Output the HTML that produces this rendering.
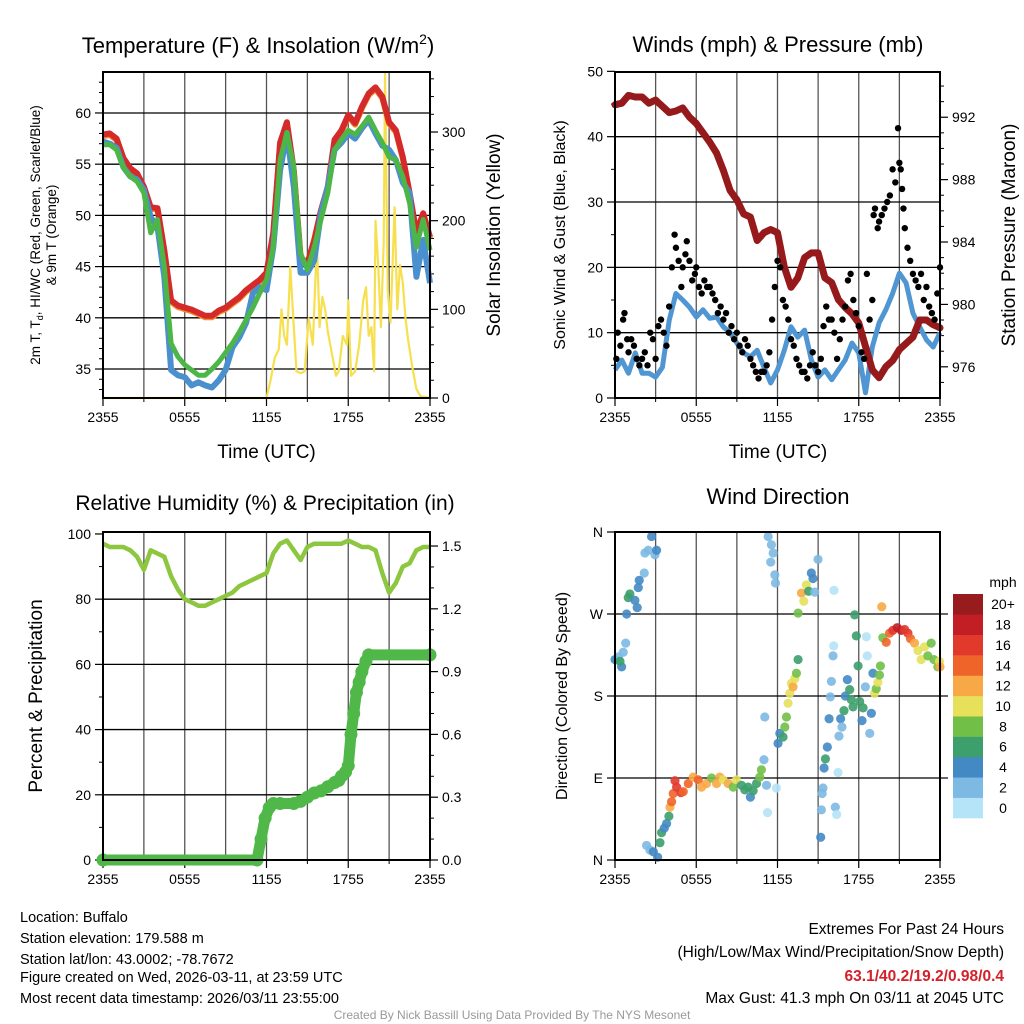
<!DOCTYPE html>
<html><head><meta charset="utf-8">
<style>
body{margin:0;background:#fff;}
svg{display:block;font-family:"Liberation Sans",Arial,sans-serif;}
</style></head>
<body>
<svg id="fig" width="1024" height="1024" viewBox="0 0 1024 1024" xmlns="http://www.w3.org/2000/svg">
<rect width="1024" height="1024" fill="#fff"/>
<g id="layer"></g>
<g font-size="14.5" fill="#000">
<text x="20" y="922">Location: Buffalo</text>
<text x="20" y="943">Station elevation: 179.588 m</text>
<text x="20" y="964">Station lat/lon: 43.0002; -78.7672</text>
<text x="20" y="982">Figure created on Wed, 2026-03-11, at 23:59 UTC</text>
<text x="20" y="1003">Most recent data timestamp: 2026/03/11 23:55:00</text>
</g>
<g font-size="15.5" text-anchor="end">
<text x="1004" y="934">Extremes For Past 24 Hours</text>
<text x="1004" y="957">(High/Low/Max Wind/Precipitation/Snow Depth)</text>
<text x="1004" y="981" fill="#d3202a" font-weight="bold">63.1/40.2/19.2/0.98/0.4</text>
<text x="1004" y="1003">Max Gust: 41.3 mph On 03/11 at 2045 UTC</text>
</g>
<text x="512" y="1019" font-size="12" fill="#999" text-anchor="middle">Created By Nick Bassill Using Data Provided By The NYS Mesonet</text>
</svg>
<script>
// ---------- DATA ----------
const hours = [0,0.5,1,1.5,2,2.5,3,3.5,4,4.5,5,5.5,6,6.5,7,7.5,8,8.5,9,9.5,10,10.5,11,11.5,12,12.5,13,13.5,14,14.5,15,15.5,16,16.5,17,17.5,18,18.5,19,19.5,20,20.5,21,21.5,22,22.5,23,23.5,24];
const tempRed = [57.9,58.0,57.5,55.6,54.6,54.1,52.8,50.8,50.7,46.6,41.7,41.2,41.0,40.8,40.5,40.2,40.2,40.7,41.0,41.5,42.0,42.7,43.2,43.7,44.4,48.3,57.1,59.1,54.4,45.9,45.3,47.6,50.5,52.8,57.4,58.3,59.8,59.0,60.6,61.9,62.5,61.6,59.1,58.3,55.7,52.2,48.3,50.2,47.9];
const tempGreen = [56.9,56.9,56.4,54.7,53.8,53.3,52.2,48.3,49.6,45.0,37.5,36.2,35.4,34.9,34.4,34.4,35.0,35.7,36.6,37.5,38.6,39.8,41.0,42.4,43.7,46.9,55.4,58.1,54.7,46.3,44.7,46.9,49.6,52.2,56.4,57.4,58.3,57.9,58.7,59.6,58.3,57.1,55.7,55.4,53.8,51.2,46.9,49.6,46.6];
const tempBlue = [57.2,57.0,56.6,54.7,53.8,53.5,52.5,49.8,48.9,44.0,34.9,34.4,34.2,33.4,33.7,33.4,33.2,33.9,34.9,37.1,38.1,39.5,42.4,43.0,42.7,46.9,54.4,58.0,52.8,44.4,44.4,45.6,50.2,52.8,56.4,57.1,58.0,57.5,58.5,59.3,58.0,56.8,56.4,55.4,53.2,52.2,44.0,47.6,43.4];
const solarHours = [0,12.0,12.3,12.6,12.9,13.1,13.3,13.5,13.75,14.0,14.2,14.5,14.8,15.1,15.4,15.7,15.9,16.1,16.3,16.5,16.8,17.1,17.3,17.6,17.9,18.0,18.2,18.5,18.8,19.1,19.3,19.5,19.7,19.9,20.0,20.2,20.4,20.6,20.7,20.9,21.1,21.4,21.6,21.8,22.0,22.2,22.4,22.7,23.0,23.3,24];
const solarVals = [0,0,20,45,55,100,70,60,148,80,30,28,30,90,60,176,80,114,100,75,50,25,30,70,60,110,25,30,60,110,125,70,80,30,200,150,80,175,366,120,85,215,100,150,130,90,65,35,10,2,0];

const windSpeed = [4.3,5.8,3.8,6.9,3.8,3.8,3.2,4.7,11.9,16.0,15.0,13.9,12.4,13.5,12.2,12.4,10.9,10.0,8.4,6.9,6.3,7.3,4.7,2.3,4.3,7.3,10.9,9.3,10.4,5.8,3.2,4.3,2.8,4.3,5.8,8.4,6.9,0.8,7.8,11.5,13.5,16.0,19.1,17.6,13.0,10.9,8.9,7.8,10.0];
const pressure = [992.8,992.9,993.4,993.3,993.3,992.9,993.1,992.7,992.3,992.4,992.6,992.0,991.6,991.0,990.4,989.7,988.6,987.3,986.7,985.8,985.6,984.1,984.6,984.8,984.6,982.4,981.1,981.7,983.0,983.3,983.3,981.7,981.4,980.3,979.8,979.4,978.8,977.3,975.8,975.3,976.0,976.4,977.1,977.5,977.9,979.0,979.0,978.7,978.5];
const gustHours = [0.1,0.2,0.4,0.6,0.7,0.9,1.0,1.2,1.4,1.6,1.8,2.0,2.2,2.4,2.6,2.8,3.0,3.2,3.4,3.6,3.8,4.0,4.2,4.4,4.5,4.7,4.9,5.0,5.2,5.3,5.5,5.7,5.9,6.0,6.2,6.4,6.6,6.8,7.0,7.2,7.4,7.6,7.8,8.0,8.2,8.4,8.6,8.8,9.0,9.2,9.4,9.6,9.8,10.0,10.2,10.4,10.6,10.8,11.0,11.2,11.4,11.6,11.8,12.0,12.2,12.4,12.6,12.8,13.0,13.2,13.4,13.6,13.8,14.0,14.2,14.4,14.6,14.8,15.0,15.2,15.4,15.6,15.8,16.0,16.2,16.4,16.6,16.8,17.0,17.2,17.4,17.6,17.8,18.0,18.2,18.4,18.6,18.8,19.0,19.1,19.2,19.4,19.5,19.7,19.9,20.1,20.3,20.5,20.7,20.9,21.0,21.1,21.2,21.3,21.4,21.6,21.8,22.0,22.2,22.4,22.6,22.8,23.0,23.2,23.4,23.6,23.8,24.0];
const gustVals = [6,10,8,12,13,9,7,9,8,6,5,6,7,5,10,9,6,11,12,10,8,14,20,25,23,21,17,20,22,24,21,18,19,20,17,16,18,17,17,16,15,13,14,12,13,10,11,9,10,8,7,9,8,6,5,4,3,4,4,5,7,12,17,21,20,15,14,12,9,8,6,5,4,4,3,5,7,5,4,6,11,14,12,12,10,6,9,12,14,18,19,15,13,11,7,6,19,12,15,28,29,26,27,28,29,30,31,35,33,41.3,36,35,32,29,26,23,21,19,18,17,19,15,17,14,13,12,16,20];

const rhVals = [97,96,96,96,95,93,89,95,94,93,87,83,80,79,78,78,79,80,81,82,84,85,86,87,88,94,97,98,95,92,96,97,97,97,97,97,98,97,96,96,95,88,82,85,90,91,95,96,96];
const precipHours = [0,11.3,11.6,11.9,12.2,12.5,13.0,14.0,14.5,15.0,15.5,16.0,16.5,17.0,17.3,17.5,17.8,18.0,18.2,18.4,18.6,18.8,19.0,19.3,19.5,24];
const precipVals = [0,0,0.1,0.2,0.25,0.27,0.27,0.27,0.28,0.3,0.32,0.33,0.35,0.37,0.38,0.4,0.42,0.45,0.6,0.7,0.8,0.85,0.9,0.95,0.98,0.98];

const dirHours = [0,0.25,0.49,0.37,0.61,0.79,0.86,0.98,1.1,1.47,1.64,1.72,1.79,2.16,2.21,2.46,2.7,2.95,3.07,2.33,2.58,2.83,3.15,3.32,3.44,3.64,3.81,3.98,4.06,4.18,4.3,4.43,4.55,4.87,5.04,5.41,5.78,6.15,6.39,6.76,7.13,7.5,7.74,7.99,8.36,8.73,8.97,9.34,9.59,9.83,10.0,10.2,10.45,10.69,10.81,11.0,11.19,11.26,11.92,11.06,12.04,12.17,12.41,12.54,12.66,12.78,12.91,13.03,13.15,13.28,13.4,13.52,11.31,11.55,11.68,11.5,11.8,11.85,13.52,13.77,13.94,14.13,14.3,14.5,14.62,14.75,14.99,16.17,15.19,15.24,15.36,15.3,15.44,15.54,15.68,15.81,15.9,15.98,16.1,16.15,16.27,16.37,16.47,16.54,16.66,16.76,16.91,17.01,17.16,17.33,17.45,17.58,17.7,17.82,17.95,18.07,18.24,18.32,18.49,18.56,18.63,18.81,18.93,19.05,19.17,19.29,19.41,19.53,19.6,19.7,19.78,20.03,20.28,20.52,20.84,21.14,21.39,21.63,21.82,22.12,22.37,22.61,22.86,23.1,23.35,23.55,23.84,23.96,24.0];
const dirDegs = [220,223,212,218,228,238,270,288,292,285,277,299,307,315,337,340,355,335,340,16,11,9,3,19,30,35,40,48,58,64,73,87,80,74,75,84,91,88,80,84,90,84,91,88,84,80,88,82,77,80,69,76,84,91,99,110,82,52,79,157,128,139,135,146,157,172,183,194,190,199,205,220,355,346,337,327,313,304,271,293,284,302,295,315,309,294,330,296,25,55,79,73,101,111,124,155,179,196,224,235,58,50,96,136,155,146,164,180,198,187,176,168,269,246,213,174,153,167,190,245,224,139,161,205,183,188,195,203,213,278,244,239,249,252,255,252,253,249,243,238,230,220,234,224,238,220,212,218,212];
const dirSpeeds = [4,2,4,6,2,2,4,6,6,4,4,4,4,2,2,2,4,2,4,2,2,4,4,6,6,4,4,6,12,14,14,16,16,16,14,14,12,14,12,12,8,12,12,10,12,8,10,6,6,6,4,6,6,8,8,2,2,0,0,2,4,4,6,8,8,10,10,10,12,10,8,6,2,2,2,2,2,2,8,12,10,10,6,4,4,2,2,0,4,2,2,2,4,6,4,4,2,2,2,0,2,0,0,2,4,2,6,4,4,6,6,6,6,6,6,6,4,6,2,0,0,2,4,4,10,8,10,8,8,12,8,14,14,16,18,18,16,16,14,12,10,10,10,8,8,8,8,10,12];

const hourTicks = [0,6,12,18,24];
const hourTickLabels = ['2355','0555','1155','1755','2355'];
const speedClasses = [0,2,4,6,8,10,12,14,16,18,20];
const speedLabels = ['0','2','4','6','8','10','12','14','16','18','20+'];
const speedColors = ['#b5e3f7','#7db9e3','#4389c4','#3c9f6c','#72bf48','#e6e05a','#f8a845','#ef6429','#e13a2d','#c21e26','#981b1e'];

// ---------- HELPERS ----------
const NS='http://www.w3.org/2000/svg';
const layer=document.getElementById('layer');
function mk(tag,attrs,parent){const e=document.createElementNS(NS,tag);for(const k in attrs)e.setAttribute(k,attrs[k]);(parent||layer).appendChild(e);return e;}
function lin(d0,d1,r0,r1){return v=>r0+(v-d0)*(r1-r0)/(d1-d0);}
function pathFrom(xs,ys,sx,sy){return xs.map((h,i)=>(i?'L':'M')+sx(h).toFixed(1)+','+sy(ys[i]).toFixed(1)).join('');}

function panel(name,L,T,R,B,sx){
  const g=mk('g',{});
  
  
  for(let h=3;h<24;h+=3){const l=mk('line',{x1:sx(h),x2:sx(h),y1:T,y2:B,stroke:'#555','stroke-width':1.3},g);
    
    }
  hourTicks.forEach((h,i)=>{
    mk('line',{x1:sx(h),x2:sx(h),y1:B,y2:B+8,stroke:'#000','stroke-width':1.2},g);
    const t=mk('text',{x:sx(h),y:B+24,'font-size':14,'text-anchor':'middle'},g);t.textContent=hourTickLabels[i];
    
    
  });
  for(let h=3;h<24;h+=6) mk('line',{x1:sx(h),x2:sx(h),y1:B,y2:B+4,stroke:'#000','stroke-width':1},g);
  return g;
}
function hgrid(g,L,R,y){const l=mk('line',{x1:L,x2:R,y1:y,y2:y,stroke:'#000','stroke-width':1.3},g);
  
  }
function leftTicks(g,L,sy,vals,labels,minor){
  vals.forEach((v,i)=>{mk('line',{x1:L-8,x2:L,y1:sy(v),y2:sy(v),stroke:'#000','stroke-width':1.2},g);
    const t=mk('text',{x:L-12,y:sy(v)+5,'font-size':14,'text-anchor':'end'},g);t.textContent=labels[i];
    
    });
  (minor||[]).forEach(v=>mk('line',{x1:L-4,x2:L,y1:sy(v),y2:sy(v),stroke:'#000','stroke-width':1},g));
}
function rightTicks(g,R,sy,vals,labels,minor){
  vals.forEach((v,i)=>{mk('line',{x1:R,x2:R+8,y1:sy(v),y2:sy(v),stroke:'#000','stroke-width':1.2},g);
    const t=mk('text',{x:R+12,y:sy(v)+5,'font-size':14},g);t.textContent=labels[i];
    
    });
  (minor||[]).forEach(v=>mk('line',{x1:R,x2:R+4,y1:sy(v),y2:sy(v),stroke:'#000','stroke-width':1},g));
}
function frame(g,L,T,R,B){mk('rect',{x:L,y:T,width:R-L,height:B-T,fill:'none',stroke:'#000','stroke-width':2},g);}
function txt(g,s,x,y,size,attrs,name){const t=mk('text',Object.assign({x:x,y:y,'font-size':size,'text-anchor':'middle'},attrs||{}),g);t.textContent=s;
  
  return t;}
function range(a,b,s){const r=[];for(let v=a;v<=b+1e-9;v+=s)r.push(+v.toFixed(3));return r;}

// ---------- PANEL 1 ----------
(function(){
  const L=103,T=72,R=430,B=398;
  const sx=lin(0,24,L,R), sy=lin(32.17,64,B,T), sy2=lin(0,367.7,B,T);
  const g=panel('temperature-panel',L,T,R,B,sx);
  [35,40,45,50,55,60].forEach(v=>hgrid(g,L,R,sy(v)));
  leftTicks(g,L,sy,[35,40,45,50,55,60],['35','40','45','50','55','60'],range(33,63,1).filter(v=>v%5));
  rightTicks(g,R,sy2,[0,100,200,300],['0','100','200','300'],range(20,360,20).filter(v=>v%100));
  const sol=mk('path',{d:pathFrom(solarHours,solarVals,sx,sy2),fill:'none',stroke:'#f7e04f','stroke-width':2.2,'stroke-linejoin':'round'},g);
  
  
  const o=mk('path',{d:pathFrom(hours,tempRed,sx,sy),fill:'none',stroke:'#f48a2c','stroke-width':6,transform:'translate(0,1.5)','stroke-linejoin':'round'},g);
  
  
  const r=mk('path',{d:pathFrom(hours,tempRed,sx,sy),fill:'none',stroke:'#d42a2a','stroke-width':6,'stroke-linejoin':'round'},g);
  
  
  const b=mk('path',{d:pathFrom(hours,tempBlue,sx,sy),fill:'none',stroke:'#4a90cf','stroke-width':6,'stroke-linejoin':'round'},g);
  
  
  const gr=mk('path',{d:pathFrom(hours,tempGreen,sx,sy),fill:'none',stroke:'#4cb648','stroke-width':5,'stroke-linejoin':'round'},g);
  
  
  frame(g,L,T,R,B);
  const t=txt(g,'Temperature (F) & Insolation (W/m',258,53,22,{},'temp-panel-title');
  const sup=mk('tspan',{'font-size':14,dy:-9},t);sup.textContent='2';
  const cl=mk('tspan',{dy:9},t);cl.textContent=')';
  txt(g,'Time (UTC)',L+(R-L)/2,458,19,{},'x-axis-title');
  const yl=txt(g,'',0,0,13.5,{transform:'translate(40,235) rotate(-90)'},'temp-y-axis-title');
  const a=mk('tspan',{x:0,dy:0},yl);a.textContent='2m T, T';
  const s=mk('tspan',{'font-size':9,dy:3},yl);s.textContent='d';
  const c=mk('tspan',{dy:-3},yl);c.textContent=', HI/WC (Red, Green, Scarlet/Blue)';
  const d2=mk('tspan',{x:0,dy:16},yl);d2.textContent='& 9m T (Orange)';
  txt(g,'Solar Insolation (Yellow)',0,0,19,{transform:'translate(500,235) rotate(-90)'},'solar-y-axis-title');
})();

// ---------- PANEL 2 ----------
(function(){
  const L=615,T=72,R=940,B=398;
  const sx=lin(0,24,L,R), sy=lin(0,49.9,B,T), sp=lin(974.0,994.9,B,T);
  const g=panel('winds-panel',L,T,R,B,sx);
  [10,20,30,40].forEach(v=>hgrid(g,L,R,sy(v)));
  leftTicks(g,L,sy,[0,10,20,30,40,50],['0','10','20','30','40','50'],[5,15,25,35,45]);
  rightTicks(g,R,sp,[976,980,984,988,992],['976','980','984','988','992'],range(975,994,1).filter(v=>v%4));
  const w=mk('path',{d:pathFrom(hours,windSpeed,sx,sy),fill:'none',stroke:'#4f96d2','stroke-width':5,'stroke-linejoin':'round'},g);
  
  
  const p=mk('path',{d:pathFrom(hours,pressure,sx,sp),fill:'none',stroke:'#961a1c','stroke-width':7,'stroke-linejoin':'round','stroke-linecap':'round'},g);
  
  
  gustHours.forEach((h,i)=>{const c=mk('circle',{cx:sx(h),cy:sy(gustVals[i]),r:3.2,fill:'#000'},g);
    
    });
  frame(g,L,T,R,B);
  txt(g,'Winds (mph) & Pressure (mb)',778,52,22,{},'winds-panel-title');
  txt(g,'Time (UTC)',778,458,19,{},'x-axis-title');
  txt(g,'Sonic Wind & Gust (Blue, Black)',0,0,16,{transform:'translate(565,235) rotate(-90)'},'wind-y-axis-title');
  txt(g,'Station Pressure (Maroon)',0,0,19,{transform:'translate(1015,235) rotate(-90)'},'pressure-y-axis-title');
})();

// ---------- PANEL 3 ----------
(function(){
  const L=103,T=532,R=430,B=860;
  const sx=lin(0,24,L,R), sy=lin(0,100.6,B,T), sp=lin(0,1.567,B,T);
  const g=panel('humidity-panel',L,T,R,B,sx);
  [20,40,60,80].forEach(v=>hgrid(g,L,R,sy(v)));
  leftTicks(g,L,sy,[0,20,40,60,80,100],['0','20','40','60','80','100'],[10,30,50,70,90]);
  rightTicks(g,R,sp,[0,0.3,0.6,0.9,1.2,1.5],['0.0','0.3','0.6','0.9','1.2','1.5'],range(0.1,1.5,0.1).filter((v,i)=>(i+1)%3));
  const rh=mk('path',{d:pathFrom(hours,rhVals,sx,sy),fill:'none',stroke:'#8dc63f','stroke-width':4.5,'stroke-linejoin':'round'},g);
  
  
  const pl=mk('path',{d:pathFrom(precipHours,precipVals,sx,sp),fill:'none',stroke:'#4fb848','stroke-width':11,'stroke-linejoin':'round','stroke-linecap':'round'},g);
  
  
  precipHours.forEach((h,i)=>{const c=mk('circle',{cx:sx(h),cy:sp(precipVals[i]),r:6.5,fill:'#4fb848'},g);
    
    });
  frame(g,L,T,R,B);
  txt(g,'Relative Humidity (%) & Precipitation (in)',265,510,21,{},'humidity-panel-title');
  txt(g,'Percent & Precipitation',0,0,19,{transform:'translate(42,696) rotate(-90)'},'humidity-y-axis-title');
})();

// ---------- PANEL 4 ----------
(function(){
  const L=615,T=532,R=940,B=860;
  const sx=lin(0,24,L,R), sy=lin(0,360,B,T);
  const g=panel('wind-direction-panel',L,T,R,B,sx);
  [90,180,270].forEach(v=>hgrid(g,L,R,sy(v)));
  leftTicks(g,L,sy,[0,90,180,270,360],['N','E','S','W','N'],[]);
  [90,180,270].forEach(v=>mk('line',{x1:R,x2:R+8,y1:sy(v),y2:sy(v),stroke:'#000','stroke-width':1.2},g));
  function col(s){let k=0;speedClasses.forEach((c,i)=>{if(s>=c)k=i;});return speedColors[k];}
  dirHours.forEach((h,i)=>{const c=mk('circle',{cx:sx(h),cy:sy(dirDegs[i]),r:4.6,fill:col(dirSpeeds[i]),'fill-opacity':0.9},g);
    
    });
  frame(g,L,T,R,B);
  txt(g,'Wind Direction',778,504,22,{},'wind-direction-title');
  txt(g,'Direction (Colored By Speed)',0,0,16,{transform:'translate(567,696) rotate(-90)'},'direction-y-axis-title');
  const cb=mk('g',{},g);
  
  
  const top=594,bh=(818-594)/11;
  speedColors.forEach((c,i)=>{const k=10-i;
    mk('rect',{x:953,y:top+k*bh,width:30,height:bh+0.3,fill:c},cb);
    const t=mk('text',{x:1003,y:top+k*bh+bh/2+5,'font-size':14,'text-anchor':'middle'},cb);t.textContent=speedLabels[i];
    
    
  });
  const u=mk('text',{x:1003,y:587,'font-size':14,'text-anchor':'middle'},cb);u.textContent='mph';
  
  
})();
</script>
</body></html>
